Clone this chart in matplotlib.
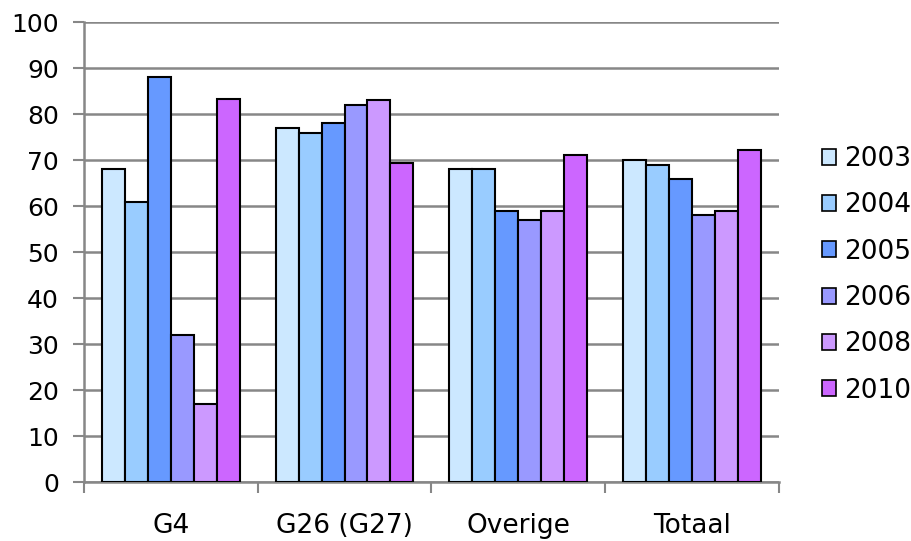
import numpy as np
import matplotlib.pyplot as plt
from matplotlib.patches import Patch

categories = ['G4', 'G26 (G27)', 'Overige', 'Totaal']
years = ['2003', '2004', '2005', '2006', '2008', '2010']
values = {
    '2003': [68, 77, 68, 70],
    '2004': [61, 76, 68, 69],
    '2005': [88, 78, 59, 66],
    '2006': [32, 82, 57, 58],
    '2008': [17, 83, 59, 59],
    '2010': [83.3, 69.3, 71.2, 72.3],
}
colors = ['#CCE8FF', '#99CCFF', '#6699FF', '#9999FF', '#CC99FF', '#CC66FF']

plt.rcParams['font.family'] = 'DejaVu Sans'
fig = plt.figure(figsize=(9.12, 5.41), dpi=100)
ax = fig.add_axes([0.092, 0.109, 0.762, 0.850])

grid_col = '#878787'
x = np.arange(len(categories))
width = 0.132
for i, year in enumerate(years):
    offs = (i - 2.5) * width
    ax.bar(x + offs, values[year], width, color=colors[i], edgecolor='black',
           linewidth=1.5, zorder=3)

ax.set_xlim(-0.5, len(categories) - 0.5)
ax.set_ylim(0, 100)
ax.set_yticks(range(0, 101, 10))
ax.yaxis.grid(True, color=grid_col, linewidth=1.8, zorder=0)

# group separators as major ticks, category names as minor ticks
ax.set_xticks(np.arange(-0.5, len(categories), 1.0))
ax.set_xticklabels([])
ax.set_xticks(x, minor=True)
ax.set_xticklabels(categories, minor=True)
ax.tick_params(axis='x', which='minor', length=0, pad=22, labelsize=19)
ax.tick_params(axis='x', which='major', length=8, width=1.5, color=grid_col)
ax.tick_params(axis='y', length=8, width=1.5, color=grid_col, labelsize=18, pad=10)

for s in ['top', 'right']:
    ax.spines[s].set_visible(False)
for s in ['left', 'bottom']:
    ax.spines[s].set_color(grid_col)
    ax.spines[s].set_linewidth(1.8)

handles = [Patch(facecolor=c, edgecolor='black', linewidth=1.2) for c in colors]
fig.legend(handles, years, loc='center left', bbox_to_anchor=(0.901, 0.492),
           frameon=False, fontsize=19, handlelength=0.55, handleheight=0.55,
           handletextpad=0.3, labelspacing=0.77, borderaxespad=0,
           borderpad=0)

fig.savefig('out.png', dpi=100)
